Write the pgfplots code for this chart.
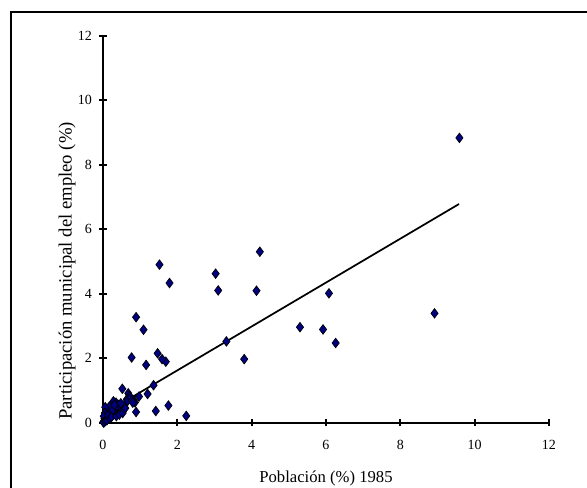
\documentclass[border=0pt]{standalone}
\usepackage{fontspec}
\setmainfont{Liberation Serif}
\usepackage{pgfplots}
\pgfplotsset{compat=1.18}
\definecolor{navy}{RGB}{0,0,128}
\pgfplotstableread{
x y
9.59 8.83
8.92 3.39
6.08 4.01
6.26 2.47
5.92 2.89
5.30 2.96
4.22 5.30
4.13 4.09
3.80 1.97
3.32 2.52
3.10 4.10
3.03 4.62
2.24 0.21
1.79 4.33
1.52 4.90
1.76 0.53
1.69 1.89
1.59 1.97
1.47 2.15
1.42 0.36
1.36 1.16
1.20 0.89
1.16 1.79
1.09 2.88
0.89 3.27
0.89 0.33
0.77 2.02
0.52 1.05
0.97 0.81
0.86 0.63
0.82 0.70
0.68 0.91
0.71 0.83
0.64 0.72
0.58 0.55
0.55 0.40
0.50 0.48
0.45 0.35
0.42 0.55
0.40 0.42
0.38 0.30
0.35 0.62
0.33 0.45
0.30 0.35
0.28 0.66
0.27 0.25
0.25 0.50
0.22 0.38
0.20 0.28
0.18 0.45
0.17 0.50
0.15 0.20
0.14 0.32
0.12 0.15
0.10 0.38
0.09 0.25
0.08 0.10
0.06 0.48
0.05 0.30
0.04 0.12
0.03 0.05
0.02 0.20
0.01 0.02
0.02 0.00
0.07 0.05
0.11 0.08
0.13 0.22
0.19 0.13
0.23 0.18
0.26 0.40
0.31 0.55
0.36 0.20
0.44 0.25
0.48 0.60
0.53 0.30
0.60 0.45
0.66 0.68
0.74 0.78
0.78 0.70
0.80 0.62
}\datatable
\begin{document}
\begin{tikzpicture}
\draw[line width=1.5pt] (-69pt,-60pt) rectangle (375pt,308pt);
\begin{axis}[
  at={(0,0)}, anchor=south west,
  scale only axis, width=334.5pt, height=290.25pt,
  xmin=0, xmax=12, ymin=0, ymax=12,
  axis x line=bottom, axis y line=left,
  axis line style={-, line width=1.6pt},
  xtick={0,2,...,12}, ytick={0,2,...,12},
  tick align=center, major tick length=5.5pt,
  tick style={line width=1.3pt, black},
  ticklabel style={font=\fontsize{10.5}{12}\selectfont},
  xticklabel style={yshift=-7pt},
  yticklabel style={xshift=-2pt},
  /pgf/number format/assume math mode=true,
  xlabel={Población (\%) 1985},
  ylabel={Participación municipal del empleo (\%)},
  xlabel style={at={(axis description cs:0.5,-0.145)}, anchor=center, font=\fontsize{12.5}{15}\selectfont},
  ylabel style={at={(axis description cs:-0.0807,0.392)}, anchor=center, font=\fontsize{14}{17}\selectfont},
  clip=false,
]
\addplot[only marks, mark=diamond*, mark size=3.6pt, mark options={fill=navy, draw=black, line width=0.5pt}] table[x=x,y=y] {\datatable};
\addplot[black, line width=1.3pt, no marks] coordinates {(0,0.26) (9.58,6.78)};
\end{axis}
\pgfresetboundingbox
\useasboundingbox (-77.25pt,-49pt) rectangle (363pt,317pt);
\end{tikzpicture}
\end{document}
